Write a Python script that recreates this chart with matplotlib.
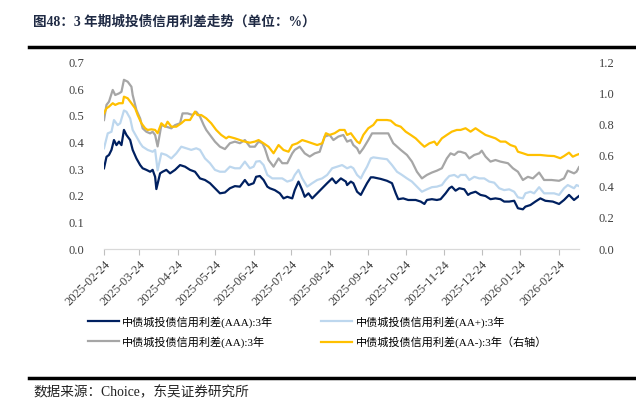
import matplotlib
matplotlib.use("Agg")
import matplotlib.pyplot as plt
from matplotlib.lines import Line2D
import pandas as pd

start = pd.Timestamp("2025-02-24")
end_day = 381

tick_labels = ["2025-02-24", "2025-03-24", "2025-04-24", "2025-05-24", "2025-06-24",
               "2025-07-24", "2025-08-24", "2025-09-24", "2025-10-24", "2025-11-24",
               "2025-12-24", "2026-01-24", "2026-02-24"]

series_names = ["中债城投债信用利差(AAA):3年", "中债城投债信用利差(AA+):3年",
                "中债城投债信用利差(AA):3年", "中债城投债信用利差(AA-):3年（右轴）"]

# days since 2025-02-24, values in %
aaa_day = [0, 2, 4, 6, 8, 10, 12, 14, 16, 18, 21, 23, 26, 29, 31, 34, 37, 39, 41, 42,
           45, 47, 50, 53, 57, 61, 65, 69, 73, 77, 81, 85, 89, 93, 97, 101, 105, 109, 113, 116,
           120, 122, 125, 128, 131, 133, 137, 141, 144, 147, 151, 153, 156, 159, 161, 164, 167, 171, 175, 179,
           183, 186, 190, 194, 195, 198, 200, 203, 206, 208, 211, 214, 216, 222, 227, 231, 234, 236, 240, 244,
           250, 254, 257, 259, 263, 267, 270, 274, 277, 279, 282, 285, 289, 292, 294, 298, 302, 306, 310, 314,
           318, 321, 325, 329, 332, 336, 338, 342, 346, 350, 354, 360, 365, 369, 373, 377, 381]
aaa_val = [0.303, 0.346, 0.353, 0.372, 0.409, 0.39, 0.403, 0.39, 0.447, 0.428, 0.409, 0.372, 0.34, 0.315, 0.303, 0.297, 0.29, 0.297, 0.271, 0.225,
           0.284, 0.29, 0.297, 0.284, 0.297, 0.315, 0.309, 0.297, 0.29, 0.265, 0.259, 0.247, 0.228, 0.209, 0.212, 0.228, 0.236, 0.234, 0.259, 0.24,
           0.247, 0.271, 0.274, 0.259, 0.234, 0.228, 0.221, 0.209, 0.19, 0.196, 0.19, 0.221, 0.253, 0.221, 0.196, 0.209, 0.19, 0.209, 0.228, 0.247,
           0.265, 0.247, 0.265, 0.253, 0.24, 0.253, 0.247, 0.215, 0.203, 0.221, 0.247, 0.269, 0.269, 0.263, 0.256, 0.247, 0.209, 0.187, 0.19, 0.184,
           0.184, 0.178, 0.169, 0.184, 0.187, 0.184, 0.187, 0.209, 0.228, 0.234, 0.219, 0.228, 0.224, 0.203, 0.209, 0.215, 0.203, 0.199, 0.187, 0.19,
           0.187, 0.178, 0.178, 0.181, 0.153, 0.149, 0.159, 0.165, 0.178, 0.19, 0.181, 0.178, 0.169, 0.184, 0.203, 0.184, 0.199]

aap_day = [0, 3, 6, 8, 11, 13, 16, 18, 21, 23, 26, 29, 31, 35, 39, 41, 43, 46, 50, 54,
           58, 62, 66, 70, 74, 77, 81, 85, 89, 93, 97, 101, 105, 109, 113, 117, 120, 122, 125, 128,
           131, 135, 139, 143, 147, 151, 153, 156, 159, 163, 167, 171, 175, 179, 183, 187, 191, 195, 198, 200,
           203, 206, 208, 211, 214, 216, 222, 227, 231, 235, 239, 243, 247, 251, 255, 259, 263, 267, 271, 274,
           277, 281, 284, 286, 290, 293, 297, 301, 305, 309, 313, 317, 321, 325, 329, 332, 336, 338, 342, 345,
           349, 353, 357, 361, 365, 369, 372, 377, 379, 381]
aap_val = [0.378, 0.434, 0.44, 0.484, 0.465, 0.472, 0.52, 0.515, 0.49, 0.447, 0.422, 0.397, 0.384, 0.372, 0.365, 0.372, 0.295, 0.359, 0.353, 0.34,
           0.359, 0.384, 0.378, 0.372, 0.378, 0.372, 0.34, 0.322, 0.297, 0.29, 0.29, 0.309, 0.303, 0.303, 0.328, 0.303, 0.309, 0.328, 0.33, 0.315,
           0.278, 0.265, 0.265, 0.265, 0.253, 0.259, 0.278, 0.297, 0.265, 0.234, 0.247, 0.259, 0.265, 0.278, 0.303, 0.309, 0.315, 0.303, 0.309, 0.303,
           0.278, 0.265, 0.284, 0.309, 0.34, 0.344, 0.34, 0.337, 0.315, 0.29, 0.278, 0.265, 0.253, 0.234, 0.215, 0.224, 0.232, 0.234, 0.24, 0.259,
           0.274, 0.278, 0.269, 0.278, 0.278, 0.259, 0.271, 0.265, 0.265, 0.253, 0.249, 0.228, 0.221, 0.224, 0.215, 0.194, 0.19, 0.209, 0.215, 0.209,
           0.232, 0.209, 0.209, 0.209, 0.203, 0.228, 0.24, 0.228, 0.24, 0.236]

aa_day = [0, 2, 4, 7, 9, 12, 14, 16, 19, 22, 23, 26, 29, 31, 34, 37, 39, 41, 43, 46,
          50, 54, 57, 61, 63, 67, 71, 74, 77, 80, 82, 85, 89, 93, 97, 101, 105, 109, 113, 117,
          121, 124, 127, 129, 132, 136, 140, 143, 147, 151, 153, 157, 161, 165, 169, 173, 177, 181, 184, 188,
          192, 195, 198, 200, 203, 205, 208, 212, 215, 219, 224, 228, 232, 238, 243, 247, 251, 255, 259, 263,
          267, 271, 275, 278, 281, 284, 286, 290, 293, 297, 301, 303, 306, 310, 314, 318, 324, 328, 332, 336,
          340, 344, 349, 353, 359, 365, 369, 372, 377, 379, 381]
aa_val = [0.484, 0.541, 0.553, 0.597, 0.578, 0.584, 0.59, 0.635, 0.628, 0.609, 0.578, 0.522, 0.49, 0.453, 0.44, 0.434, 0.44, 0.428, 0.385, 0.465,
          0.459, 0.453, 0.465, 0.472, 0.509, 0.509, 0.503, 0.515, 0.497, 0.465, 0.447, 0.428, 0.403, 0.384, 0.375, 0.397, 0.403, 0.397, 0.409, 0.384,
          0.384, 0.403, 0.397, 0.378, 0.334, 0.309, 0.34, 0.322, 0.322, 0.359, 0.372, 0.384, 0.359, 0.347, 0.359, 0.365, 0.422, 0.428, 0.409, 0.422,
          0.428, 0.403, 0.409, 0.39, 0.378, 0.359, 0.378, 0.409, 0.434, 0.434, 0.434, 0.434, 0.397, 0.372, 0.353, 0.328, 0.29, 0.265, 0.278, 0.287,
          0.294, 0.303, 0.34, 0.359, 0.353, 0.365, 0.365, 0.359, 0.34, 0.353, 0.359, 0.369, 0.347, 0.328, 0.334, 0.328, 0.322, 0.303, 0.29, 0.259,
          0.271, 0.265, 0.287, 0.259, 0.259, 0.256, 0.265, 0.294, 0.284, 0.29, 0.307]

aam_day = [0, 2, 4, 7, 9, 12, 15, 16, 19, 22, 25, 27, 30, 33, 35, 38, 41, 43, 46, 49,
           51, 54, 58, 62, 65, 69, 73, 75, 78, 82, 86, 90, 94, 98, 100, 105, 109, 113, 117, 121,
           124, 128, 132, 136, 140, 144, 148, 151, 155, 159, 163, 167, 171, 175, 178, 181, 185, 189, 193, 195,
           198, 200, 203, 205, 208, 212, 216, 219, 223, 227, 230, 234, 238, 242, 246, 250, 254, 257, 261, 265,
           267, 271, 275, 279, 283, 286, 290, 294, 298, 302, 306, 310, 314, 318, 322, 326, 330, 332, 336, 340,
           345, 350, 356, 361, 366, 369, 373, 376, 379, 381]
aam_val = [0.873, 0.905, 0.916, 0.938, 0.927, 0.938, 0.938, 0.98, 0.97, 0.938, 0.905, 0.862, 0.809, 0.777, 0.766, 0.77, 0.766, 0.745, 0.809, 0.787,
           0.819, 0.787, 0.787, 0.809, 0.83, 0.83, 0.884, 0.862, 0.862, 0.841, 0.809, 0.766, 0.734, 0.712, 0.723, 0.712, 0.701, 0.691, 0.684, 0.691,
           0.701, 0.68, 0.658, 0.616, 0.669, 0.637, 0.626, 0.669, 0.68, 0.701, 0.691, 0.68, 0.669, 0.68, 0.745, 0.734, 0.745, 0.766, 0.766, 0.734,
           0.745, 0.723, 0.691, 0.68, 0.734, 0.777, 0.798, 0.83, 0.83, 0.83, 0.826, 0.798, 0.787, 0.755, 0.734, 0.712, 0.68, 0.658, 0.68, 0.691,
           0.669, 0.712, 0.734, 0.755, 0.766, 0.766, 0.777, 0.755, 0.777, 0.755, 0.734, 0.723, 0.712, 0.691, 0.691, 0.669, 0.658, 0.626, 0.616, 0.605,
           0.605, 0.605, 0.6, 0.598, 0.584, 0.598, 0.62, 0.594, 0.605, 0.611]

colors = ["#002060", "#bdd7ee", "#a6a6a6", "#ffc000"]
serif_cjk = ["Liberation Serif", "Noto Sans CJK SC"]
plt.rcParams["font.family"] = serif_cjk


def to_dates(days):
    return start + pd.to_timedelta(days, unit="D")


fig = plt.figure(figsize=(6.36, 4.09), dpi=100)
ax = fig.add_axes([104 / 636, 1 - 249 / 409, 475 / 636, 186.5 / 409])
ax2 = ax.twinx()

l1, = ax.plot(to_dates(aaa_day), aaa_val, color=colors[0], lw=1.6)
l2, = ax.plot(to_dates(aap_day), aap_val, color=colors[1], lw=1.6)
l3, = ax.plot(to_dates(aa_day), aa_val, color=colors[2], lw=1.6)
l4, = ax2.plot(to_dates(aam_day), aam_val, color=colors[3], lw=1.6)

ax.set_xlim(start, start + pd.Timedelta(days=end_day))
ax.set_ylim(0, 0.7)
ax2.set_ylim(0, 1.2)
ax.set_yticks([i / 10 for i in range(8)])
ax.set_yticklabels([f"{i / 10:.1f}" for i in range(8)])
ax2.set_yticks([i / 5 for i in range(7)])
ax2.set_yticklabels([f"{i / 5:.1f}" for i in range(7)])

ax.set_xticks(pd.to_datetime(tick_labels))
ax.set_xticklabels(tick_labels, rotation=45, ha="right", rotation_mode="anchor")

for a in (ax, ax2):
    for s in ["top", "left", "right"]:
        a.spines[s].set_visible(False)
    a.spines["bottom"].set_color("#d9d9d9")
    a.tick_params(axis="y", length=0, labelsize=9, colors="#404040", pad=14)
ax.tick_params(axis="x", length=4, color="#bfbfbf", labelsize=9, labelcolor="#404040", pad=3)

fig.legend([l1, l3, l2, l4], [series_names[0], series_names[2], series_names[1], series_names[3]],
           ncol=2, loc="upper left", bbox_to_anchor=(78 / 636, 1 - 306 / 409), frameon=False,
           fontsize=8, handlelength=2.8, columnspacing=4.3, labelspacing=0.75, handletextpad=0.3)

fig.text(33 / 636, 1 - 22 / 409, "图48：3 年期城投债信用利差走势（单位：%）", fontsize=9.8,
         fontweight="bold", color="#1f2a44", va="center", ha="left")
fig.add_artist(Line2D([29 / 636, 1], [1 - 47 / 409] * 2, lw=2.5, color="black"))
fig.add_artist(Line2D([29 / 636, 1], [1 - 378 / 409] * 2, lw=2.5, color="black"))
fig.text(33 / 636, 1 - 393 / 409, "数据来源：Choice，东吴证券研究所", fontsize=9.8,
         color="#222222", va="center", ha="left")

fig.savefig("out.png", dpi=100)
